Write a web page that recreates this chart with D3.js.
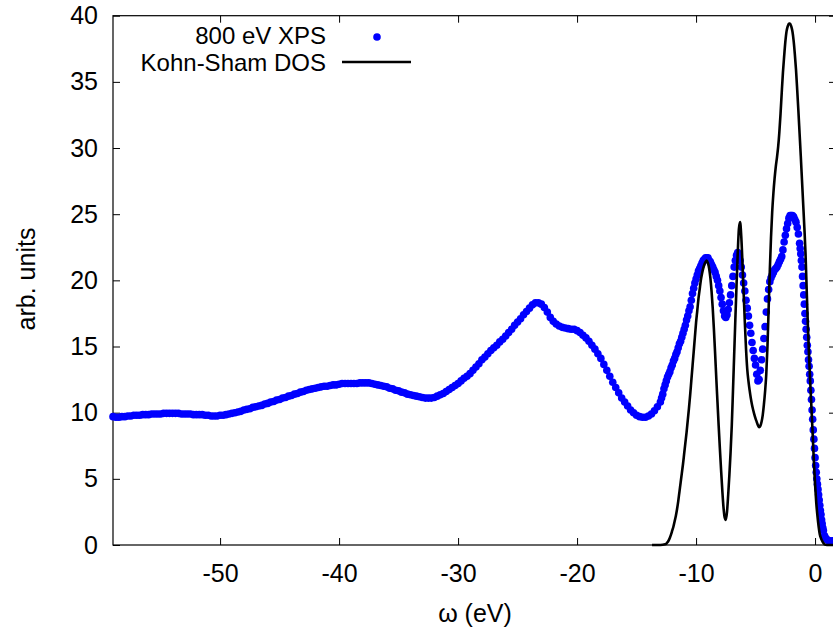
<!DOCTYPE html>
<html>
<head>
<meta charset="utf-8">
<script src="https://cdn.jsdelivr.net/npm/d3@7"></script>
<style>
  html, body { margin: 0; padding: 0; background: #fff; }
  svg { display: block; }
  text { font-family: "Liberation Sans", Arial, Helvetica, sans-serif; }
</style>
</head>
<body>
<svg id="chart" width="833" height="628"></svg>
<script>
// ---- data ----
const xTickValues = [-50, -40, -30, -20, -10, 0];
const yTickValues = [0, 5, 10, 15, 20, 25, 30, 35, 40];
const seriesNames = ["800 eV XPS", "Kohn-Sham DOS"];
const xLabel = "ω (eV)";
const yLabel = "arb. units";

// 800 eV XPS: [energy (eV), intensity]
const xpsData = [
[-59,9.7],[-58.75,9.65],[-58.5,9.65],[-58.25,9.7],[-58,9.7],[-57.75,9.75],[-57.5,9.75],[-57.25,9.8],[-57,9.8],[-56.75,9.8],
[-56.5,9.85],[-56.25,9.85],[-56,9.85],[-55.75,9.9],[-55.5,9.9],[-55.25,9.9],[-55,9.9],[-54.75,9.95],[-54.5,9.95],[-54.25,9.95],
[-54,9.95],[-53.75,9.95],[-53.5,9.95],[-53.25,9.9],[-53,9.9],[-52.75,9.9],[-52.5,9.9],[-52.25,9.85],[-52,9.85],[-51.75,9.85],
[-51.5,9.85],[-51.25,9.8],[-51,9.8],[-50.75,9.75],[-50.5,9.75],[-50.25,9.75],[-50,9.8],[-49.75,9.8],[-49.5,9.85],[-49.25,9.9],
[-49,9.95],[-48.75,10.0],[-48.5,10.05],[-48.25,10.1],[-48,10.2],[-47.75,10.25],[-47.5,10.3],[-47.25,10.4],[-47,10.45],[-46.75,10.5],
[-46.5,10.55],[-46.25,10.65],[-46,10.7],[-45.75,10.8],[-45.5,10.85],[-45.25,10.95],[-45,11.0],[-44.75,11.1],[-44.5,11.15],[-44.25,11.25],
[-44,11.3],[-43.75,11.4],[-43.5,11.45],[-43.25,11.55],[-43,11.6],[-42.75,11.7],[-42.5,11.75],[-42.25,11.8],[-42,11.85],[-41.75,11.9],
[-41.5,11.95],[-41.25,12.0],[-41,12.0],[-40.75,12.05],[-40.5,12.1],[-40.25,12.1],[-40,12.15],[-39.75,12.2],[-39.5,12.2],[-39.25,12.2],
[-39,12.2],[-38.75,12.2],[-38.5,12.2],[-38.25,12.25],[-38,12.25],[-37.75,12.25],[-37.5,12.25],[-37.25,12.2],[-37,12.15],[-36.75,12.1],
[-36.5,12.05],[-36.25,12.0],[-36,11.95],[-35.75,11.85],[-35.5,11.8],[-35.25,11.7],[-35,11.65],[-34.75,11.55],[-34.5,11.5],[-34.25,11.4],
[-34,11.35],[-33.75,11.3],[-33.5,11.25],[-33.25,11.2],[-33,11.15],[-32.75,11.1],[-32.5,11.1],[-32.25,11.1],[-32,11.15],[-31.75,11.25],
[-31.5,11.35],[-31.25,11.45],[-31,11.6],
[-30.75,11.75],[-30.5,11.9],[-30.25,12.05],[-30,12.2],[-29.75,12.4],[-29.5,12.6],[-29.25,12.75],[-29,12.95],
[-28.75,13.2],[-28.5,13.45],[-28.25,13.7],[-28,14.0],[-27.75,14.2],[-27.5,14.45],[-27.25,14.7],[-27,14.9],
[-26.75,15.1],[-26.5,15.35],[-26.25,15.55],[-26,15.8],[-25.75,16.05],[-25.5,16.3],[-25.25,16.6],[-25,16.85],
[-24.75,17.1],[-24.5,17.4],[-24.25,17.65],[-24,17.9],[-23.75,18.15],[-23.5,18.3],[-23.25,18.3],[-23,18.2],
[-22.75,17.95],[-22.5,17.6],[-22.25,17.2],[-22,16.9],[-21.75,16.7],[-21.5,16.55],[-21.25,16.45],[-21,16.4],
[-20.75,16.35],[-20.5,16.3],[-20.25,16.3],[-20,16.2],[-19.75,16.05],[-19.5,15.85],[-19.25,15.65],[-19,15.4],
[-18.75,15.1],[-18.5,14.8],[-18.25,14.45],[-18,14.1],[-17.75,13.65],[-17.5,13.2],[-17.25,12.75],[-17,12.3],
[-16.75,11.9],[-16.5,11.5],[-16.25,11.1],[-16,10.8],[-15.75,10.5],[-15.5,10.2],[-15.25,10.0],[-15,9.8],
[-14.75,9.7],[-14.5,9.65],[-14.25,9.65],[-14,9.75],[-13.75,9.9],[-13.5,10.15],[-13.25,10.45],
[-13.0,10.8],[-12.9,11.1],[-12.8,11.4],[-12.7,11.8],[-12.6,12.1],[-12.5,12.4],[-12.4,12.7],[-12.3,12.9],[-12.2,13.1],[-12.1,13.4],
[-12.0,13.6],[-11.9,13.9],[-11.8,14.1],[-11.7,14.4],[-11.6,14.6],[-11.5,14.9],[-11.4,15.2],[-11.3,15.4],[-11.2,15.7],[-11.1,16.0],
[-11.0,16.3],[-10.9,16.6],[-10.8,17.0],[-10.7,17.3],[-10.6,17.7],[-10.5,18.0],[-10.4,18.5],[-10.3,19.0],[-10.2,19.4],[-10.1,19.8],
[-10.0,20.1],[-9.9,20.4],[-9.8,20.7],[-9.7,20.9],[-9.6,21.1],[-9.5,21.3],[-9.4,21.5],[-9.3,21.6],[-9.2,21.7],[-9.1,21.7],
[-9.0,21.7],[-8.9,21.5],[-8.8,21.4],[-8.7,21.2],[-8.6,21.0],[-8.5,20.8],[-8.4,20.6],[-8.3,20.3],[-8.2,20.0],[-8.1,19.6],
[-8.0,19.2],[-7.9,18.7],[-7.8,18.2],[-7.7,17.7],[-7.6,17.3],[-7.5,17.2],[-7.4,17.4],[-7.3,17.8],[-7.2,18.3],[-7.1,18.9],
[-7.0,19.6],[-6.9,20.3],[-6.8,21.0],[-6.7,21.5],[-6.6,21.9],[-6.5,22.1],[-6.4,21.9],[-6.3,21.5],[-6.2,21.0],[-6.1,20.4],
[-6.0,19.8],[-5.9,19.2],[-5.8,18.5],[-5.7,17.9],[-5.6,17.3],[-5.5,16.6],[-5.4,16.0],[-5.3,15.3],[-5.2,14.7],[-5.1,14.1],
[-5.0,13.6],[-4.9,12.9],[-4.8,12.4],[-4.7,12.5],[-4.6,13.2],[-4.5,14.0],[-4.4,14.8],[-4.3,15.6],[-4.2,16.5],[-4.1,17.6],
[-4.0,18.6],[-3.9,19.3],[-3.8,19.9],[-3.7,20.2],[-3.6,20.4],[-3.5,20.6],[-3.4,20.8],[-3.3,20.9],[-3.2,21.0],[-3.1,21.2],
[-3.0,21.4],[-2.9,21.6],[-2.8,21.8],[-2.7,22.3],[-2.6,22.9],[-2.5,23.4],[-2.4,23.9],[-2.3,24.3],[-2.2,24.7],[-2.1,24.9],
[-2.0,24.9],[-1.9,24.9],[-1.8,24.8],[-1.7,24.6],[-1.6,24.4],[-1.5,24.0],[-1.4,23.5],[-1.3,22.8],
[-1.25,22.4],[-1.2,22.0],[-1.15,21.5],[-1.1,21.0],[-1.05,20.3],[-1.0,19.6],[-0.95,18.9],[-0.9,18.2],[-0.85,17.5],[-0.8,16.9],
[-0.75,16.3],[-0.7,15.7],[-0.65,15.1],[-0.6,14.6],[-0.55,14.0],[-0.5,13.5],[-0.45,12.9],[-0.4,12.4],[-0.35,11.7],[-0.3,11.0],
[-0.25,10.2],[-0.2,9.5],[-0.15,8.7],[-0.1,8.0],[-0.05,7.3],[0.0,6.6],[0.05,6.0],[0.1,5.5],[0.15,5.0],[0.2,4.6],
[0.25,4.2],[0.3,3.8],[0.35,3.4],[0.4,3.0],[0.45,2.6],[0.5,2.3],[0.55,1.9],[0.6,1.6],[0.65,1.3],[0.7,1.1],
[0.8,0.7],[0.9,0.5],[1.0,0.4],[1.1,0.35],[1.2,0.3],[1.3,0.3],[1.4,0.3],[1.5,0.3],[1.6,0.3]
];

// Kohn-Sham DOS: [energy (eV), DOS]
const dosData = [
[-13.7,0],[-13.0,0],[-12.6,0.05],[-12.5,0.1],[-12.4,0.2],[-12.3,0.35],[-12.2,0.55],[-12.1,0.8],
[-12.0,1.1],[-11.9,1.4],[-11.8,1.8],[-11.7,2.2],[-11.6,2.7],[-11.5,3.3],[-11.4,4.0],[-11.3,4.7],[-11.2,5.4],[-11.1,6.1],
[-11.0,6.9],[-10.9,7.7],[-10.8,8.5],[-10.7,9.4],[-10.6,10.3],[-10.5,11.3],[-10.4,12.4],[-10.3,13.5],[-10.2,14.6],[-10.1,15.7],
[-10.0,16.8],[-9.9,17.7],[-9.8,18.6],[-9.7,19.3],[-9.6,20.0],[-9.5,20.5],[-9.4,20.9],[-9.3,21.2],[-9.2,21.4],[-9.1,21.5],
[-9.0,21.3],[-8.9,20.9],[-8.8,20.2],[-8.7,19.2],[-8.6,17.9],[-8.5,16.3],[-8.4,14.5],[-8.3,12.6],[-8.2,10.8],[-8.1,9.0],
[-8.0,7.3],[-7.9,5.7],[-7.8,4.2],[-7.7,2.9],[-7.6,2.1],[-7.5,1.9],[-7.4,2.5],[-7.3,3.8],[-7.2,5.3],[-7.1,7.0],
[-7.0,9.0],[-6.9,11.6],[-6.8,14.3],[-6.7,17.0],[-6.6,19.6],[-6.5,22.0],[-6.4,23.9],[-6.3,24.4],[-6.2,23.3],[-6.1,21.3],
[-6.0,19.0],[-5.9,16.8],[-5.8,14.8],[-5.7,13.3],[-5.6,12.4],[-5.5,11.7],[-5.4,11.1],[-5.3,10.6],[-5.2,10.2],[-5.1,9.85],
[-5.0,9.55],[-4.9,9.3],[-4.8,9.05],[-4.7,8.9],[-4.6,9.0],[-4.5,9.3],[-4.4,9.8],[-4.3,10.6],[-4.2,11.6],[-4.1,12.9],
[-4.0,15.0],[-3.9,17.9],[-3.8,20.8],[-3.7,23.3],[-3.6,25.2],[-3.5,26.6],[-3.4,27.7],[-3.3,28.6],[-3.2,29.3],[-3.1,30.1],
[-3.0,31.2],[-2.9,32.6],[-2.8,34.2],[-2.7,35.7],[-2.6,36.9],[-2.5,38.0],[-2.4,38.8],[-2.3,39.2],[-2.2,39.4],[-2.1,39.4],
[-2.0,39.2],[-1.9,38.8],[-1.8,38.1],[-1.7,37.1],[-1.6,35.9],[-1.5,34.4],[-1.4,32.8],[-1.3,31.1],[-1.2,29.4],[-1.1,27.6],
[-1.0,25.8],[-0.9,24.0],[-0.8,22.0],[-0.7,19.2],[-0.6,16.5],[-0.5,14.2],[-0.4,12.2],[-0.3,10.3],[-0.2,8.4],[-0.1,6.3],
[0.0,4.6],[0.1,3.2],[0.2,2.2],[0.3,1.4],[0.4,0.8],[0.5,0.5],[0.6,0.3],[0.7,0.15],[0.8,0.05],[1.0,0],[1.6,0]
];

// ---- layout ----
const plot = { left: 113, right: 836, top: 15.7, bottom: 545 };
const FONT = 25;
const LEGEND_FONT = 24;
const FONT_FAMILY = '"Liberation Sans", Arial, Helvetica, sans-serif';

const svg = d3.select("#chart");

const x = d3.scaleLinear().domain([-59, 1.76]).range([plot.left, plot.right]);
const y = d3.scaleLinear().domain([0, 40]).range([plot.bottom, plot.top]);

const fmt = d => String(d); // plain hyphen-minus, as in the original

function styleAxis(g) {
  g.select(".domain").remove();
  g.selectAll(".tick line").attr("stroke", "#000").attr("stroke-width", 1);
  g.selectAll(".tick text")
    .attr("fill", "#000")
    .style("font-family", FONT_FAMILY)
    .style("font-size", FONT + "px");
  g.attr("font-size", null).attr("font-family", null);
}

svg.append("g")
  .attr("transform", `translate(0,${plot.bottom})`)
  .call(d3.axisBottom(x).tickValues(xTickValues).tickFormat(fmt).tickSize(-7).tickPadding(19))
  .call(styleAxis);

svg.append("g")
  .attr("transform", `translate(0,${plot.top})`)
  .call(d3.axisTop(x).tickValues(xTickValues).tickFormat("").tickSize(-7))
  .call(styleAxis);

svg.append("g")
  .attr("transform", `translate(${plot.left},0)`)
  .call(d3.axisLeft(y).tickValues(yTickValues).tickFormat(fmt).tickSize(-7).tickPadding(15))
  .call(styleAxis);

svg.append("g")
  .attr("transform", `translate(${plot.right},0)`)
  .call(d3.axisRight(y).tickValues(yTickValues).tickFormat("").tickSize(-7))
  .call(styleAxis);

// frame
svg.append("rect")
  .attr("x", plot.left).attr("y", plot.top)
  .attr("width", plot.right - plot.left).attr("height", plot.bottom - plot.top)
  .attr("fill", "none").attr("stroke", "#000").attr("stroke-width", 1.2);

// axis titles
svg.append("text")
  .attr("x", 475).attr("y", 622)
  .attr("text-anchor", "middle")
  .style("font-size", FONT + "px")
  .text(xLabel);

svg.append("text")
  .attr("transform", "translate(35,279) rotate(-90)")
  .attr("text-anchor", "middle")
  .style("font-size", FONT + "px")
  .text(yLabel);

// XPS points
svg.append("g")
  .selectAll("circle")
  .data(xpsData)
  .join("circle")
  .attr("cx", d => x(d[0]))
  .attr("cy", d => y(d[1]))
  .attr("r", 3.8)
  .attr("fill", "#0000ff");

// DOS line
const line = d3.line().x(d => x(d[0])).y(d => y(d[1])).curve(d3.curveMonotoneX);
svg.append("path")
  .datum(dosData)
  .attr("d", line)
  .attr("fill", "none")
  .attr("stroke", "#000")
  .attr("stroke-width", 2.6)
  .attr("stroke-linejoin", "round");

// legend
const legend = svg.append("g");
legend.append("text")
  .attr("x", 326).attr("y", 44)
  .attr("text-anchor", "end")
  .style("font-size", LEGEND_FONT + "px")
  .text(seriesNames[0]);
legend.append("circle")
  .attr("cx", 377).attr("cy", 37)
  .attr("r", 3.8).attr("fill", "#0000ff");
legend.append("text")
  .attr("x", 326).attr("y", 71)
  .attr("text-anchor", "end")
  .style("font-size", LEGEND_FONT + "px")
  .text(seriesNames[1]);
legend.append("line")
  .attr("x1", 342).attr("x2", 411)
  .attr("y1", 62).attr("y2", 62)
  .attr("stroke", "#000").attr("stroke-width", 2.6);
</script>
</body>
</html>
